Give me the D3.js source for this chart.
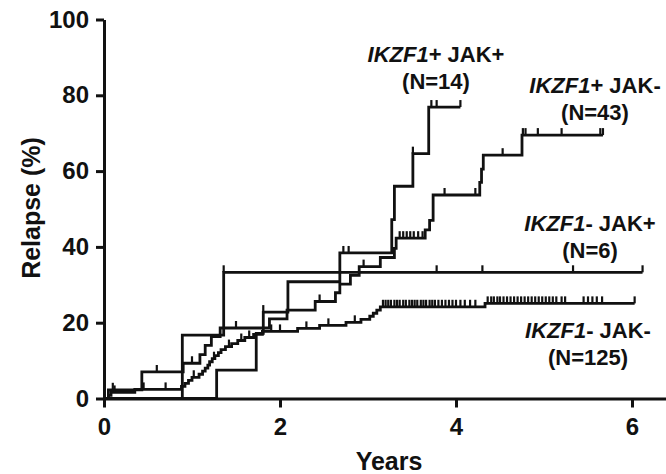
<!DOCTYPE html>
<html>
<head>
<meta charset="utf-8">
<script src="https://cdn.jsdelivr.net/npm/d3@7"></script>
<style>
  body { margin: 0; background: #fff; }
  svg { display: block; }
  text { font-family: "Liberation Sans", Arial, sans-serif; fill: #111; }
</style>
</head>
<body>
<svg width="666" height="474"></svg>
<script>
// Tick values
var xTicks = [0, 2, 4, 6];
var yTicks = [0, 20, 40, 60, 80, 100];

// IKZF1+ JAK+ (N=14)
var posPosTimes = [1.28, 1.73, 1.81, 2.09, 2.68, 3.27, 3.30, 3.51, 3.69];
var posPosRelapse = [7.5, 17.2, 22.8, 30.8, 38.4, 47.2, 56.0, 64.6, 76.9];
var posPosCensor = [1.81, 2.72, 2.78, 3.51, 3.72, 3.78, 4.05];
var posPosEnd = 4.05;

// IKZF1+ JAK- (N=43)
var posNegTimes = [0.05, 0.43, 0.90, 1.09, 1.15, 1.22, 1.32, 1.88, 2.08, 2.40, 2.63, 2.68, 2.80, 2.90, 3.14, 3.30, 3.32, 3.65, 3.70, 3.74, 4.27, 4.29, 4.31, 4.75];
var posNegRelapse = [2.3, 7.0, 9.3, 11.6, 14.0, 16.3, 18.6, 21.0, 23.3, 25.6, 27.9, 30.2, 32.5, 34.8, 37.2, 39.6, 42.3, 44.5, 47.0, 53.7, 57.0, 60.5, 64.2, 69.5];
var posNegCensor = [0.10, 0.60, 1.00, 1.50, 2.45, 2.95, 3.36, 3.40, 3.44, 3.48, 3.52, 3.57, 3.62, 3.87, 4.22, 4.53, 4.76, 4.79, 4.93, 5.20, 5.64, 5.67];
var posNegEnd = 5.67;

// IKZF1- JAK+ (N=6)
var negPosTimes = [0.89, 1.36];
var negPosRelapse = [16.7, 33.3];
var negPosCensor = [1.36, 3.78, 4.30, 5.33, 6.12];
var negPosEnd = 6.12;

// IKZF1- JAK- (N=125)
var negNegTimes = [0.05, 0.08, 0.35, 0.88, 0.92, 0.96, 1.00, 1.08, 1.12, 1.15, 1.18, 1.20, 1.23, 1.26, 1.30, 1.33, 1.38, 1.45, 1.52, 1.60, 1.70, 1.80, 2.20, 2.45, 2.75, 2.92, 3.02, 3.06, 3.10, 3.14, 4.33];
var negNegRelapse = [0.8, 1.6, 2.4, 3.2, 4.0, 4.8, 5.6, 6.4, 7.2, 8.0, 8.8, 9.7, 10.5, 11.3, 12.1, 12.9, 13.7, 14.5, 15.3, 16.1, 16.9, 17.7, 18.5, 19.3, 20.1, 20.9, 21.7, 22.5, 23.3, 24.2, 25.1];
var negNegCensor = [0.12, 0.45, 0.70, 1.02, 1.25, 1.42, 1.56, 1.65, 1.90, 2.00, 2.30, 2.55, 2.85,
  3.17, 3.20, 3.23, 3.26, 3.30, 3.33, 3.36, 3.40, 3.43, 3.47, 3.50, 3.53, 3.56, 3.60, 3.63, 3.66, 3.70, 3.73, 3.76, 3.80, 3.84, 3.88, 3.92, 3.96, 4.00, 4.05, 4.10, 4.16, 4.22,
  4.36, 4.40, 4.43, 4.47, 4.50, 4.54, 4.58, 4.62, 4.66, 4.70, 4.74, 4.78, 4.82, 4.86, 4.90, 4.94, 4.98, 5.02, 5.06, 5.10, 5.14, 5.20, 5.24, 5.45, 5.50, 5.55, 5.60, 5.66, 6.03];
var negNegEnd = 6.03;

var series = [
  {times: posPosTimes, values: posPosRelapse, censor: posPosCensor, end: posPosEnd},
  {times: posNegTimes, values: posNegRelapse, censor: posNegCensor, end: posNegEnd},
  {times: negPosTimes, values: negPosRelapse, censor: negPosCensor, end: negPosEnd},
  {times: negNegTimes, values: negNegRelapse, censor: negNegCensor, end: negNegEnd}
];

// Labels: italic gene part, rest, N line, position
var labels = [
  {gene: 'IKZF1', rest: '+ JAK+', n: '(N=14)', x: 436, y: 62},
  {gene: 'IKZF1', rest: '+ JAK-', n: '(N=43)', x: 595, y: 93},
  {gene: 'IKZF1', rest: '- JAK+', n: '(N=6)', x: 590, y: 231},
  {gene: 'IKZF1', rest: '- JAK-', n: '(N=125)', x: 588, y: 338}
];

var ink = '#111';
var x = d3.scaleLinear().domain([0, 6.4]).range([104, 667.2]);
var y = d3.scaleLinear().domain([0, 100]).range([398.5, 19.5]);

var svg = d3.select('svg');

// Axes
var yAxis = d3.axisLeft(y).tickValues(yTicks).tickSize(8).tickSizeOuter(0).tickPadding(7);
var xAxis = d3.axisBottom(x).tickValues(xTicks).tickFormat(d3.format('d'))
  .tickSize(9).tickSizeOuter(0).tickPadding(10);

var gy = svg.append('g').attr('transform', 'translate(' + x(0) + ',0)').call(yAxis);
var gx = svg.append('g').attr('transform', 'translate(0,' + y(0) + ')').call(xAxis);

[gx, gy].forEach(function(g) {
  g.select('.domain').attr('stroke', ink).attr('stroke-width', 3);
  g.selectAll('.tick line').attr('stroke', ink).attr('stroke-width', 3);
  g.selectAll('.tick text')
    .attr('fill', ink)
    .style('font-size', '24px')
    .style('font-weight', 'bold')
    .style('font-family', '"Liberation Sans", Arial, sans-serif');
});

// Axis titles
svg.append('text')
  .attr('x', 389).attr('y', 470)
  .attr('text-anchor', 'middle')
  .style('font-size', '25px').style('font-weight', 'bold')
  .text('Years');

svg.append('text')
  .attr('transform', 'translate(40,208) rotate(-90)')
  .attr('text-anchor', 'middle')
  .style('font-size', '25px').style('font-weight', 'bold')
  .text('Relapse (%)');

// Step curves
var line = d3.line()
  .x(function(d) { return x(d[0]); })
  .y(function(d) { return y(d[1]); })
  .curve(d3.curveStepAfter);

function levelAt(s, t) {
  var v = 0;
  for (var i = 0; i < s.times.length; i++) {
    if (s.times[i] <= t + 1e-9) v = s.values[i];
  }
  return v;
}

series.forEach(function(s) {
  var pts = [[0, 0]];
  s.times.forEach(function(t, i) { pts.push([t, s.values[i]]); });
  pts.push([s.end, s.values[s.values.length - 1]]);

  svg.append('path')
    .datum(pts)
    .attr('fill', 'none')
    .attr('stroke', ink)
    .attr('stroke-width', 2.8)
    .attr('d', line);

  // censor marks
  svg.selectAll()
    .data(s.censor).enter()
    .append('line')
    .attr('x1', function(t) { return x(t); })
    .attr('x2', function(t) { return x(t); })
    .attr('y1', function(t) { return y(levelAt(s, t)); })
    .attr('y2', function(t) { return y(levelAt(s, t)) - 7; })
    .attr('stroke', ink)
    .attr('stroke-width', 2.2);
});

// Group labels
labels.forEach(function(l) {
  var t = svg.append('text')
    .attr('x', l.x).attr('y', l.y)
    .attr('text-anchor', 'middle')
    .style('font-size', '22px').style('font-weight', 'bold');
  t.append('tspan').style('font-style', 'italic').text(l.gene);
  t.append('tspan').text(l.rest);

  svg.append('text')
    .attr('x', l.x).attr('y', l.y + 27)
    .attr('text-anchor', 'middle')
    .style('font-size', '22px').style('font-weight', 'bold')
    .text(l.n);
});
</script>
</body>
</html>
